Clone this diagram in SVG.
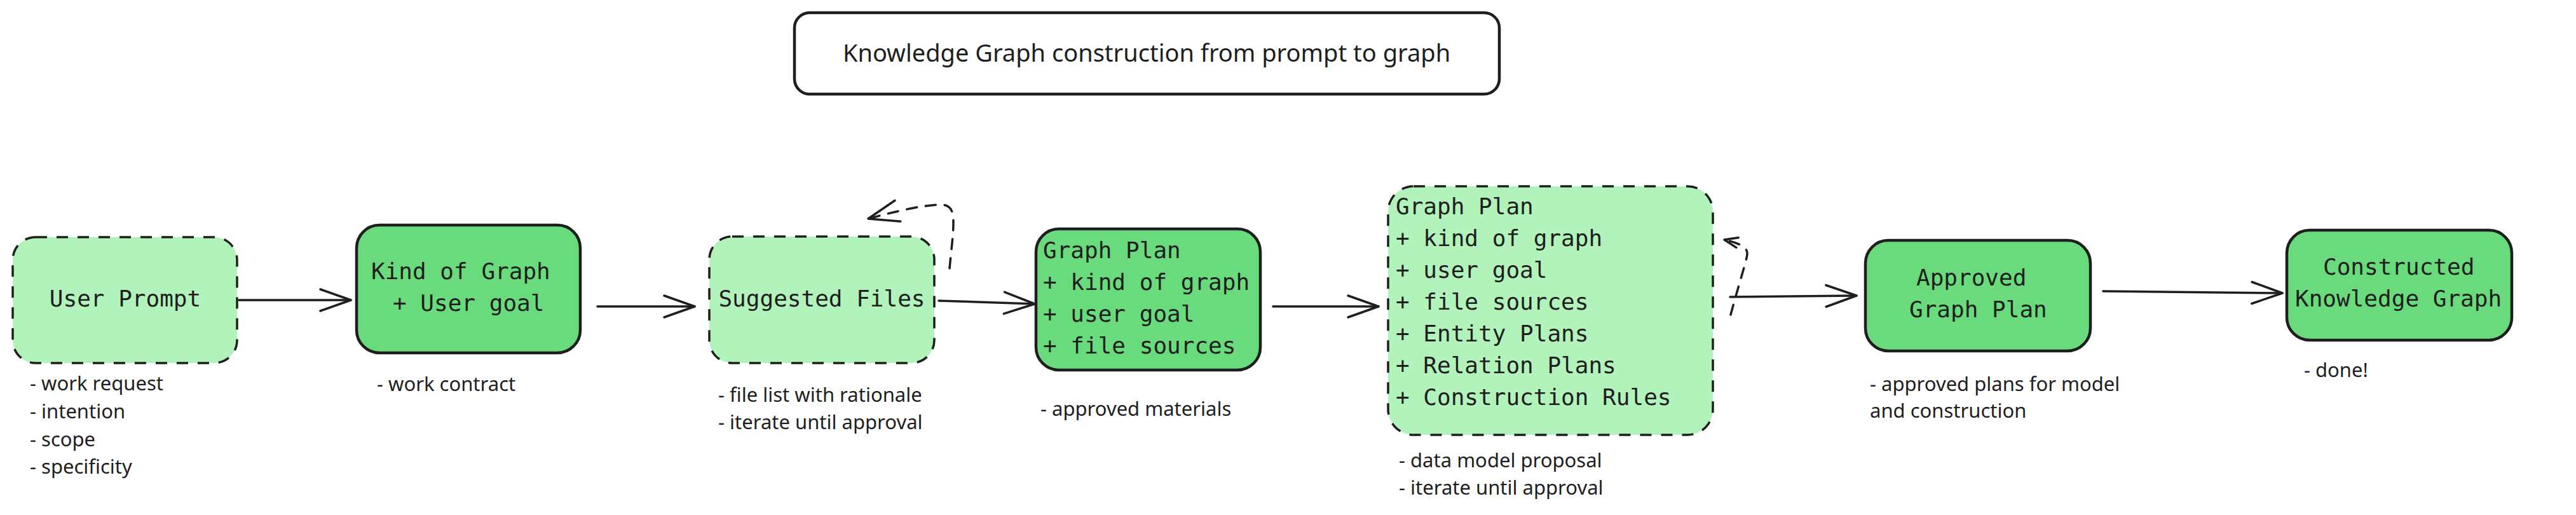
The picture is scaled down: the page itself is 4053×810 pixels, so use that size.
<svg xmlns="http://www.w3.org/2000/svg" width="4053" height="810" viewBox="0 0 4053 810">
  <defs>
    <marker id="arrow" viewBox="-54 -22 60 44" refX="0" refY="0" markerWidth="60" markerHeight="44" markerUnits="userSpaceOnUse" orient="auto">
      <path d="M-48,-17 L0,0 L-48,17" fill="none" stroke="#1e1e1e" stroke-width="3.5" stroke-linecap="round" stroke-linejoin="round"/>
    </marker>
    <marker id="arrowSmall" viewBox="-26 -12 30 24" refX="0" refY="0" markerWidth="30" markerHeight="24" markerUnits="userSpaceOnUse" orient="auto">
      <path d="M-21,-8 L0,0 L-21,8" fill="none" stroke="#1e1e1e" stroke-width="3.5" stroke-linecap="round" stroke-linejoin="round"/>
    </marker>
  </defs>
  <style>
    .box-solid { stroke: #1e1e1e; stroke-width: 4.5; }
    .box-dashed { stroke: #1e1e1e; stroke-width: 3.5; stroke-dasharray: 18 15; }
    .light { fill: #b2f2bb; }
    .dark { fill: #69db7c; }
    .mono { font-family: "DejaVu Sans Mono", "Liberation Mono", monospace; font-size: 36px; fill: #1e1e1e; }
    .label { font-family: "Noto Sans", "Liberation Sans", sans-serif; font-size: 31px; fill: #1e1e1e; }
    .title { font-family: "Noto Sans", "Liberation Sans", sans-serif; font-size: 38px; fill: #1e1e1e; }
    .conn { fill: none; stroke: #1e1e1e; stroke-width: 3.5; stroke-linecap: round; }
    .conn-dashed { fill: none; stroke: #1e1e1e; stroke-width: 3.5; stroke-linecap: round; stroke-dasharray: 16 14; }
  </style>
  <rect width="4053" height="810" fill="#ffffff"/>

  <g id="title">
    <rect x="1250" y="20" width="1109" height="128" rx="24" fill="#ffffff" class="box-solid"/>
    <text x="1804" y="97" text-anchor="middle" class="title">Knowledge Graph construction from prompt to graph</text>
  </g>

  <g id="node-user-prompt">
    <rect x="20" y="373" width="353" height="198" rx="36" class="light box-dashed"/>
    <text x="197" y="482" text-anchor="middle" class="mono">User Prompt</text>
    <text class="label">
      <tspan x="47" y="614">- work request</tspan>
      <tspan x="47" y="658">- intention</tspan>
      <tspan x="47" y="702">- scope</tspan>
      <tspan x="47" y="745">- specificity</tspan>
    </text>
  </g>

  <g id="node-kind-of-graph">
    <rect x="561" y="354" width="352" height="201" rx="36" class="dark box-solid"/>
    <text class="mono">
      <tspan x="584" y="439">Kind of Graph</tspan>
      <tspan x="618" y="489">+ User goal</tspan>
    </text>
    <text x="593" y="615" class="label">- work contract</text>
  </g>

  <g id="node-suggested-files">
    <rect x="1116" y="372" width="354" height="199" rx="36" class="light box-dashed"/>
    <text x="1293" y="482" text-anchor="middle" class="mono">Suggested Files</text>
    <text class="label">
      <tspan x="1130" y="632">- file list with rationale</tspan>
      <tspan x="1130" y="675">- iterate until approval</tspan>
    </text>
  </g>

  <g id="node-graph-plan">
    <rect x="1630" y="360" width="353" height="222" rx="36" class="dark box-solid"/>
    <text class="mono">
      <tspan x="1641" y="406">Graph Plan</tspan>
      <tspan x="1641" y="456">+ kind of graph</tspan>
      <tspan x="1641" y="506">+ user goal</tspan>
      <tspan x="1641" y="556">+ file sources</tspan>
    </text>
    <text x="1637" y="654" class="label">- approved materials</text>
  </g>

  <g id="node-graph-plan-full">
    <rect x="2184" y="293" width="511" height="391" rx="40" class="light box-dashed"/>
    <text class="mono">
      <tspan x="2196" y="337">Graph Plan</tspan>
      <tspan x="2196" y="387">+ kind of graph</tspan>
      <tspan x="2196" y="437">+ user goal</tspan>
      <tspan x="2196" y="487">+ file sources</tspan>
      <tspan x="2196" y="537">+ Entity Plans</tspan>
      <tspan x="2196" y="587">+ Relation Plans</tspan>
      <tspan x="2196" y="637">+ Construction Rules</tspan>
    </text>
    <text class="label">
      <tspan x="2201" y="735">- data model proposal</tspan>
      <tspan x="2201" y="778">- iterate until approval</tspan>
    </text>
  </g>

  <g id="node-approved-graph-plan">
    <rect x="2935" y="378" width="354" height="174" rx="36" class="dark box-solid"/>
    <text class="mono">
      <tspan x="3015" y="449">Approved</tspan>
      <tspan x="3004" y="499">Graph Plan</tspan>
    </text>
    <text class="label">
      <tspan x="2942" y="615">- approved plans for model</tspan>
      <tspan x="2942" y="657">and construction</tspan>
    </text>
  </g>

  <g id="node-constructed-graph">
    <rect x="3598" y="362" width="354" height="173" rx="36" class="dark box-solid"/>
    <text class="mono">
      <tspan x="3655" y="432">Constructed</tspan>
      <tspan x="3611" y="482">Knowledge Graph</tspan>
    </text>
    <text x="3625" y="593" class="label">- done!</text>
  </g>

  <g id="connectors">
    <path class="conn" d="M376,472 L552,472" marker-end="url(#arrow)"/>
    <path class="conn" d="M940,482 L1093,482" marker-end="url(#arrow)"/>
    <path class="conn-dashed" d="M1494,422 C1497,390 1500,370 1500,350 C1500,330 1495,322 1480,322 C1450,322 1400,335 1366,344" marker-end="url(#arrow)"/>
    <path class="conn" d="M1477,473 L1628,478" marker-end="url(#arrow)"/>
    <path class="conn" d="M2003,482 L2169,482" marker-end="url(#arrow)"/>
    <path class="conn-dashed" d="M2723,495 C2735,450 2748,410 2749,400 C2750,390 2740,383 2713,377" marker-end="url(#arrowSmall)"/>
    <path class="conn" d="M2722,467 L2921,465" marker-end="url(#arrow)"/>
    <path class="conn" d="M3309,458 L3591,461" marker-end="url(#arrow)"/>
  </g>
</svg>
